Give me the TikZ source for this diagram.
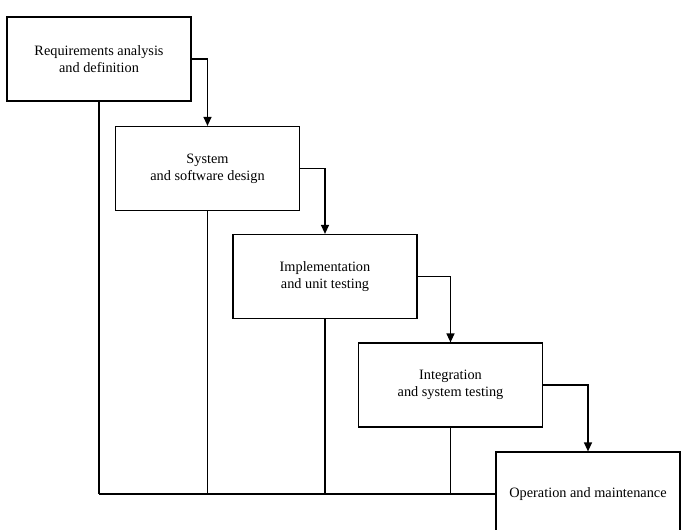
\documentclass[tikz,border=0pt]{standalone}
\usepackage{fontspec}
\setmainfont{Liberation Serif}
\usetikzlibrary{arrows.meta}
\begin{document}
\begin{tikzpicture}[x=1pt,y=-1pt,
  phase/.style={draw=black,line width=1.2pt,fill=white,minimum width=184pt,minimum height=84pt,inner sep=0pt,align=center,font=\fontsize{14.3}{17}\selectfont},
  flow/.style={draw=black,line width=1.2pt,-{Triangle[length=9pt,width=8pt]}},
  link/.style={draw=black,line width=1.2pt}]
\useasboundingbox (0,0) rectangle (686,530);
\node[phase] (req) at (99,59) {Requirements analysis\\and definition};
\node[phase] (sys) at (207.5,168.5) {System\\and software design};
\node[phase] (imp) at (325,276.5) {Implementation\\and unit testing};
\node[phase] (int) at (450.5,385) {Integration\\and system testing};
\node[phase] (op) at (588,494) {Operation and maintenance};
\coordinate (c1) at (req.south |- op.west);
\coordinate (c2) at (sys.south |- op.west);
\coordinate (c3) at (imp.south |- op.west);
\coordinate (c4) at (int.south |- op.west);
\draw[link] (req.south) -- (c1);
\draw[link] (sys.south) -- (c2);
\draw[link] (imp.south) -- (c3);
\draw[link] (int.south) -- (c4);
\draw[link] (c1) -- (op.west);
\draw[flow] (req.east) -| (sys.north);
\draw[flow] (sys.east) -| (imp.north);
\draw[flow] (imp.east) -| (int.north);
\draw[flow] (int.east) -| (op.north);
\end{tikzpicture}
\end{document}
